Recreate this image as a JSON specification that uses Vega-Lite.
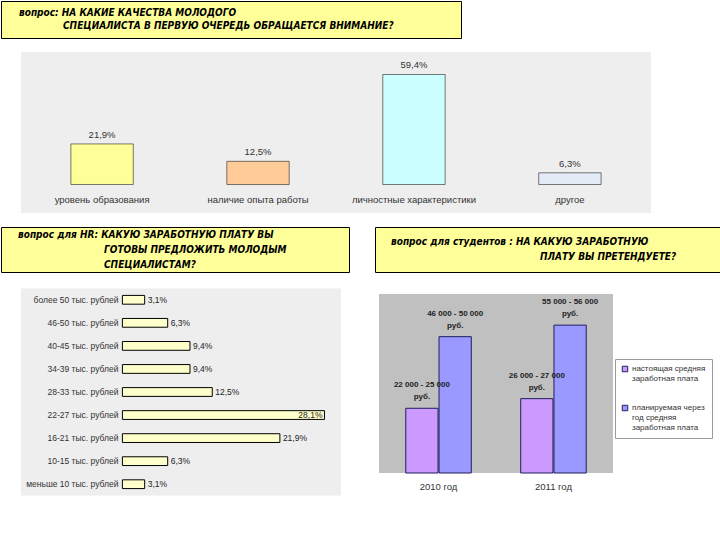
{
  "$schema": "https://vega.github.io/schema/vega-lite/v6.json",
  "padding": 0,
  "background": "#ffffff",
  "config": {
    "view": {"stroke": null},
    "font": "Liberation Sans",
    "locale": {"number": {"decimal": ",", "thousands": " ", "grouping": [3], "currency": ["", ""]}}
  },
  "resolve": {"scale": {"color": "independent"}, "legend": {"color": "independent"}},
  "spacing": 13,
  "vconcat": [
    {
      "width": 460,
      "height": 37,
      "view": {"fill": "#ffff99", "stroke": "#000000", "strokeWidth": 1},
      "data": {"values": [
        {"line": 1, "text": "вопрос: НА КАКИЕ КАЧЕСТВА МОЛОДОГО"},
        {"line": 2, "text": "СПЕЦИАЛИСТА В ПЕРВУЮ ОЧЕРЕДЬ ОБРАЩАЕТСЯ ВНИМАНИЕ?"}
      ]},
      "encoding": {
        "y": {"field": "line", "type": "ordinal", "axis": null, "scale": {"padding": 0.923}},
        "text": {"field": "text", "type": "nominal"}
      },
      "layer": [
        {"transform": [{"filter": "datum.line == 1"}], "mark": {"type": "text", "align": "left", "dx": -212, "font": "DejaVu Sans Condensed", "fontSize": 10, "fontWeight": "bold", "fontStyle": "italic", "color": "#000000"}},
        {"transform": [{"filter": "datum.line == 2"}], "mark": {"type": "text", "align": "left", "dx": -168, "font": "DejaVu Sans Condensed", "fontSize": 10, "fontWeight": "bold", "fontStyle": "italic", "color": "#000000"}}
      ]
    },
    {
      "spacing": 19,
      "resolve": {"scale": {"color": "independent"}, "legend": {"color": "independent"}},
      "hconcat": [
        {"width": 1, "height": 1, "data": {"values": []}, "mark": "point", "encoding": {}},
        {
          "width": 630,
          "height": 161,
          "view": {"fill": "#eeeeee", "stroke": null},
          "data": {"values": [
            {"category": "уровень образования", "share": 0.219},
            {"category": "наличие опыта работы", "share": 0.125},
            {"category": "личностные характеристики", "share": 0.594},
            {"category": "другое", "share": 0.063}
          ]},
          "encoding": {
            "x": {"field": "category", "type": "nominal", "sort": null,
              "scale": {"paddingInner": 0.6, "paddingOuter": 0.32},
              "axis": {"orient": "bottom", "offset": -22, "labelPadding": 3, "domain": false, "ticks": false, "title": null, "labelAngle": 0, "labelFontSize": 9.5, "labelColor": "#333333"}},
            "y": {"field": "share", "type": "quantitative", "scale": {"domain": [-0.154, 0.7155], "nice": false, "zero": false}, "axis": null}
          },
          "layer": [
            {
              "mark": {"type": "bar", "stroke": "#222222", "strokeWidth": 0.6},
              "encoding": {
                "y2": {"datum": 0},
                "color": {"field": "category", "type": "nominal", "sort": null,
                  "scale": {"domain": ["уровень образования", "наличие опыта работы", "личностные характеристики", "другое"], "range": ["#ffff99", "#ffcc99", "#ccffff", "#e3ebf6"]},
                  "legend": null}
              }
            },
            {
              "mark": {"type": "text", "baseline": "bottom", "dy": -4, "fontSize": 9.5, "color": "#333333"},
              "encoding": {"text": {"field": "share", "type": "quantitative", "format": ".1%"}}
            }
          ]
        }
      ]
    },
    {
      "spacing": 24,
      "resolve": {"scale": {"color": "independent"}, "legend": {"color": "independent"}},
      "hconcat": [
        {
          "spacing": 15.5,
          "vconcat": [
            {
              "width": 348,
              "height": 45,
              "view": {"fill": "#ffff99", "stroke": "#000000", "strokeWidth": 1},
              "data": {"values": [
                {"line": 1, "text": "вопрос для HR: КАКУЮ ЗАРАБОТНУЮ ПЛАТУ ВЫ"},
                {"line": 2, "text": "ГОТОВЫ ПРЕДЛОЖИТЬ МОЛОДЫМ"},
                {"line": 3, "text": "СПЕЦИАЛИСТАМ?"}
              ]},
              "encoding": {
                "y": {"field": "line", "type": "ordinal", "axis": null, "scale": {"padding": 0.5}},
                "text": {"field": "text", "type": "nominal"}
              },
              "layer": [
                {"transform": [{"filter": "datum.line == 1"}], "mark": {"type": "text", "align": "left", "dx": -157, "font": "DejaVu Sans Condensed", "fontSize": 10, "fontWeight": "bold", "fontStyle": "italic", "color": "#000000"}},
                {"transform": [{"filter": "datum.line > 1"}], "mark": {"type": "text", "align": "left", "dx": -71, "font": "DejaVu Sans Condensed", "fontSize": 10, "fontWeight": "bold", "fontStyle": "italic", "color": "#000000"}}
              ]
            },
            {
              "spacing": 19,
              "hconcat": [
                {"width": 1, "height": 1, "data": {"values": []}, "mark": "point", "encoding": {}},
                {
                  "width": 320,
                  "height": 207,
                  "view": {"fill": "#eeeeee", "stroke": null},
                  "data": {"values": [
                    {"range": "более 50 тыс. рублей", "share": 0.031},
                    {"range": "46-50 тыс. рублей", "share": 0.063},
                    {"range": "40-45 тыс. рублей", "share": 0.094},
                    {"range": "34-39 тыс. рублей", "share": 0.094},
                    {"range": "28-33 тыс. рублей", "share": 0.125},
                    {"range": "22-27 тыс. рублей", "share": 0.281},
                    {"range": "16-21 тыс. рублей", "share": 0.219},
                    {"range": "10-15 тыс. рублей", "share": 0.063},
                    {"range": "меньше 10 тыс. рублей", "share": 0.031}
                  ]},
                  "encoding": {
                    "y": {"field": "range", "type": "nominal", "sort": null,
                      "scale": {"paddingInner": 0.62, "paddingOuter": 0.3},
                      "axis": {"orient": "left", "offset": -100, "labelPadding": 3, "domain": false, "ticks": false, "title": null, "labelFontSize": 8.5, "labelColor": "#333333"}},
                    "x": {"field": "share", "type": "quantitative", "scale": {"domain": [-0.141, 0.304], "nice": false, "zero": false}, "axis": null}
                  },
                  "layer": [
                    {"mark": {"type": "bar", "fill": "#ffffcc", "stroke": "#000000", "strokeWidth": 1}, "encoding": {"x2": {"datum": 0}}},
                    {"transform": [{"filter": "datum.share < 0.25"}], "mark": {"type": "text", "align": "left", "dx": 3, "fontSize": 8.5, "color": "#222222"}, "encoding": {"text": {"field": "share", "type": "quantitative", "format": ".1%"}}},
                    {"transform": [{"filter": "datum.share >= 0.25"}], "mark": {"type": "text", "align": "right", "dx": -2, "fontSize": 8.5, "color": "#222222"}, "encoding": {"text": {"field": "share", "type": "quantitative", "format": ".1%"}}}
                  ]
                }
              ]
            }
          ]
        },
        {
          "spacing": 21,
          "resolve": {"scale": {"color": "independent"}, "legend": {"color": "independent"}},
          "vconcat": [
            {
              "width": 347,
              "height": 45,
              "view": {"fill": "#ffff99", "stroke": "#000000", "strokeWidth": 1},
              "data": {"values": [
                {"line": 1, "text": "вопрос для студентов : НА КАКУЮ ЗАРАБОТНУЮ"},
                {"line": 2, "text": "ПЛАТУ ВЫ ПРЕТЕНДУЕТЕ?"}
              ]},
              "encoding": {
                "y": {"field": "line", "type": "ordinal", "axis": null, "scale": {"padding": 1.0}},
                "text": {"field": "text", "type": "nominal"}
              },
              "layer": [
                {"transform": [{"filter": "datum.line == 1"}], "mark": {"type": "text", "align": "left", "dx": -157.5, "font": "DejaVu Sans Condensed", "fontSize": 10, "fontWeight": "bold", "fontStyle": "italic", "color": "#000000"}},
                {"transform": [{"filter": "datum.line == 2"}], "mark": {"type": "text", "align": "left", "dx": -8.5, "font": "DejaVu Sans Condensed", "fontSize": 10, "fontWeight": "bold", "fontStyle": "italic", "color": "#000000"}}
              ]
            },
            {
              "spacing": 3,
              "resolve": {"scale": {"color": "independent"}, "legend": {"color": "independent"}},
              "hconcat": [
                {"width": 1, "height": 1, "data": {"values": []}, "mark": "point", "encoding": {}},
                {
                  "width": 234,
                  "height": 179,
                  "view": {"fill": "#c0c0c0", "stroke": null},
                  "data": {"values": [
                    {"year": "2010 год", "series": "настоящая средняя заработная плата", "salary": 23500, "label": "22 000 - 25 000\nруб."},
                    {"year": "2010 год", "series": "планируемая через год средняя заработная плата", "salary": 49500, "label": "46 000 - 50 000\nруб."},
                    {"year": "2011 год", "series": "настоящая средняя заработная плата", "salary": 27000, "label": "26 000 - 27 000\nруб."},
                    {"year": "2011 год", "series": "планируемая через год средняя заработная плата", "salary": 53700, "label": "55 000 - 56 000\nруб."}
                  ]},
                  "encoding": {
                    "x": {"field": "year", "type": "nominal",
                      "scale": {"paddingInner": 0.43, "paddingOuter": 0.233},
                      "axis": {"labelPadding": 8, "domain": false, "ticks": false, "title": null, "labelAngle": 0, "labelFontSize": 9.5, "labelColor": "#333333"}},
                    "xOffset": {"field": "series", "type": "nominal", "sort": null, "scale": {"paddingInner": 0.03, "paddingOuter": 0}},
                    "y": {"field": "salary", "type": "quantitative", "scale": {"domain": [0, 65000], "nice": false}, "axis": null}
                  },
                  "layer": [
                    {
                      "mark": {"type": "bar", "stroke": "#1f1f5a", "strokeWidth": 1},
                      "encoding": {
                        "color": {"field": "series", "type": "nominal", "sort": null,
                          "scale": {"domain": ["настоящая средняя заработная плата", "планируемая через год средняя заработная плата"], "range": ["#cc99ff", "#9999ff"]},
                          "legend": {"orient": "none", "legendX": 236, "legendY": 65, "title": null, "fillColor": "#ffffff", "strokeColor": "#9a9a9a", "padding": 6, "symbolType": "square", "symbolSize": 30, "symbolStrokeColor": "#1f1f5a", "symbolStrokeWidth": 1, "labelFontSize": 8, "labelColor": "#333333", "rowPadding": 20, "labelOffset": 3, "labelLimit": 200,
                            "labelExpr": "datum.label == 'настоящая средняя заработная плата' ? ['настоящая средняя', 'заработная плата'] : ['планируемая через', 'год средняя', 'заработная плата']"}
                        }
                      }
                    },
                    {
                      "mark": {"type": "text", "baseline": "bottom", "dy": -19, "fontSize": 8, "lineHeight": 12, "fontWeight": "bold", "color": "#222222", "lineBreak": "\n"},
                      "encoding": {"text": {"field": "label", "type": "nominal"}}
                    }
                  ]
                }
              ]
            }
          ]
        }
      ]
    }
  ]
}
